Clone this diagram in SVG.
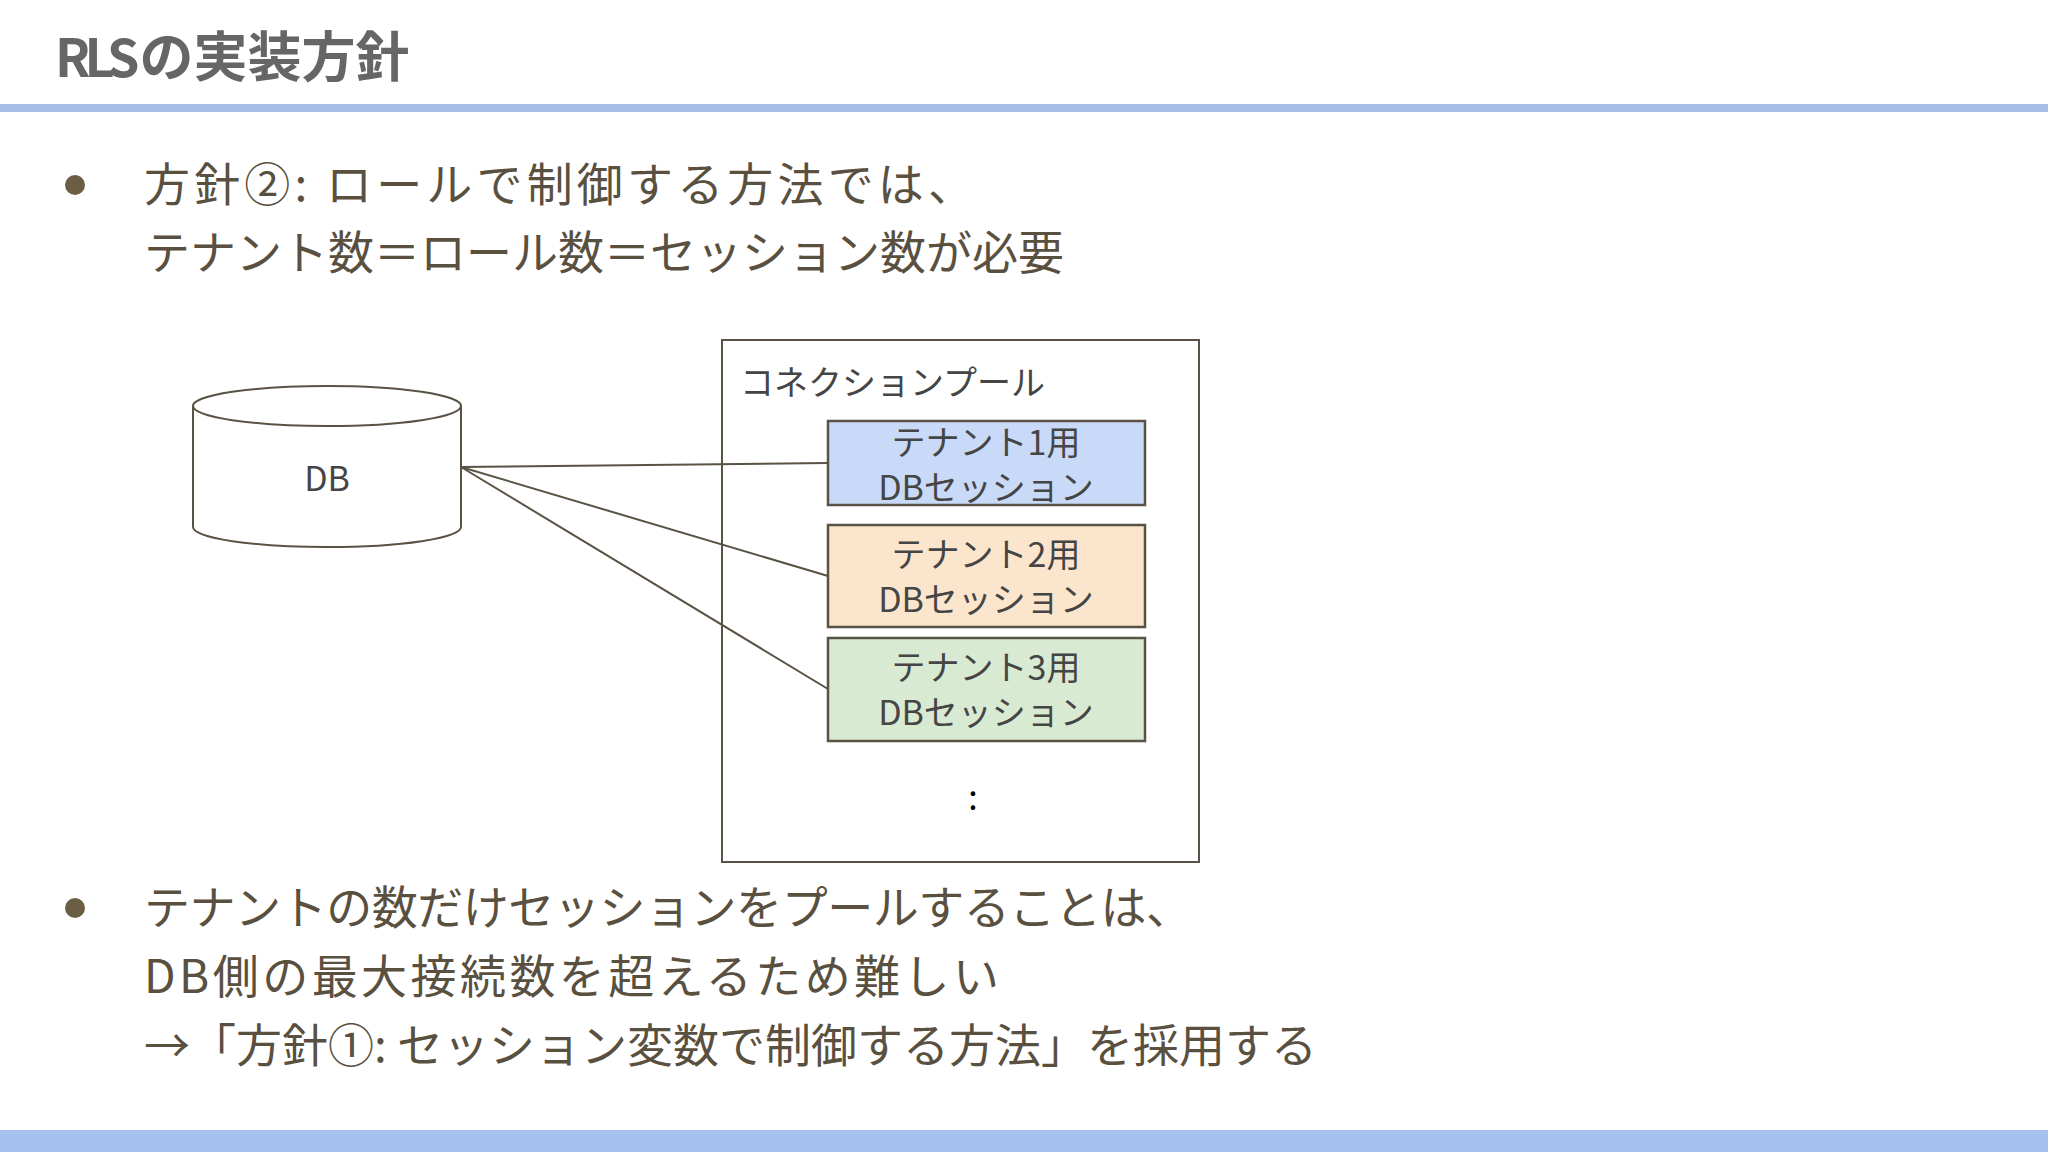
<svg xmlns="http://www.w3.org/2000/svg" width="2048" height="1152" viewBox="0 0 2048 1152">
  <style>
    .body { font-family: "Noto Sans CJK JP", "Noto Sans", sans-serif; font-size: 46px; fill: #5a5040; }
    .title { font-family: "Noto Sans CJK JP", "Noto Sans", sans-serif; font-size: 54px; font-weight: bold; fill: #666666; }
    .lbl { font-family: "Noto Sans CJK JP", "Noto Sans", sans-serif; font-size: 34px; fill: #454545; }
    .box { stroke: #5a5244; stroke-width: 2.5; }
    .conn { stroke: #5a5244; stroke-width: 2; fill: none; }
  </style>
  <rect x="0" y="0" width="2048" height="1152" fill="#ffffff"/>
  <rect x="0" y="104" width="2048" height="8" fill="#a7bfe6"/>
  <rect x="0" y="1130" width="2048" height="22" fill="#a6c0f0"/>

  <g id="title">
    <text class="title" x="55" y="77"><tspan font-size="52" letter-spacing="-6">RLS</tspan><tspan dx="6">の実装方針</tspan></text>
  </g>

  <g id="bullet1">
    <circle cx="75" cy="185" r="10" fill="#6b5e45"/>
    <text class="body" x="144" y="201" textLength="830">方針②: ロールで制御する方法では、</text>
    <text class="body" x="144" y="269">テナント数＝ロール数＝セッション数が必要</text>
  </g>

  <g id="connectors">
    <line class="conn" x1="461" y1="467" x2="828" y2="463"/>
    <line class="conn" x1="461" y1="467" x2="828" y2="576"/>
    <line class="conn" x1="461" y1="467" x2="828" y2="689"/>
  </g>

  <g id="db">
    <path d="M193,406 L193,527 A134,20 0 0 0 461,527 L461,406" fill="#ffffff" stroke="#5a5244" stroke-width="2"/>
    <ellipse cx="327" cy="406" rx="134" ry="20" fill="#ffffff" stroke="#5a5244" stroke-width="2"/>
    <text class="lbl" x="327" y="491" text-anchor="middle">DB</text>
  </g>

  <g id="pool">
    <rect x="722" y="340" width="477" height="522" fill="none" stroke="#5a5244" stroke-width="2"/>
    <text class="lbl" x="740" y="395">コネクションプール</text>
  </g>

  <g id="session1">
    <rect class="box" x="828" y="421" width="317" height="84" fill="#c9daf8"/>
    <text class="lbl" x="986" y="455" text-anchor="middle">テナント1用</text>
    <text class="lbl" x="986" y="500" text-anchor="middle">DBセッション</text>
  </g>
  <g id="session2">
    <rect class="box" x="828" y="525" width="317" height="102" fill="#fce5cd"/>
    <text class="lbl" x="986" y="567" text-anchor="middle">テナント2用</text>
    <text class="lbl" x="986" y="612" text-anchor="middle">DBセッション</text>
  </g>
  <g id="session3">
    <rect class="box" x="828" y="638" width="317" height="103" fill="#d9ead3"/>
    <text class="lbl" x="986" y="680" text-anchor="middle">テナント3用</text>
    <text class="lbl" x="986" y="725" text-anchor="middle">DBセッション</text>
  </g>
  <g id="ellipsis">
    <text class="lbl" x="973" y="810" text-anchor="middle" style="fill:#000">:</text>
  </g>

  <g id="bullet2">
    <circle cx="75" cy="908" r="10" fill="#6b5e45"/>
    <text class="body" x="144" y="924" textLength="1048">テナントの数だけセッションをプールすることは、</text>
    <text class="body" x="144" y="993" textLength="855">DB側の最大接続数を超えるため難しい</text>
    <text class="body" x="144" y="1062">→「方針①: セッション変数で制御する方法」を採用する</text>
  </g>
</svg>
